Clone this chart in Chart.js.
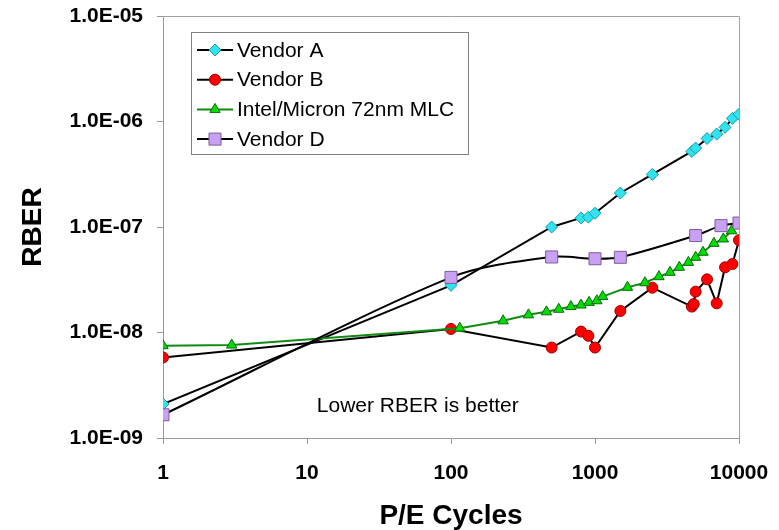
<!DOCTYPE html>
<html>
<head>
<meta charset="utf-8">
<title>RBER vs P/E Cycles</title>
<script src="https://cdn.jsdelivr.net/npm/chart.js@4.4.0/dist/chart.umd.min.js"></script>
<style>
    html, body { margin: 0; padding: 0; background: #ffffff; }
    #wrap { width: 779px; height: 530px; }
</style>
</head>
<body>
<div id="wrap"><canvas id="rberChart" width="779" height="530"></canvas></div>
<script>
// axis ticks
const xTicks = [1, 10, 100, 1000, 10000];
const yTicks = [1e-9, 1e-8, 1e-7, 1e-6, 1e-5];
const yTickLabels = ['1.0E-09', '1.0E-08', '1.0E-07', '1.0E-06', '1.0E-05'];

// Vendor A
const vendorAX = [1, 100, 500, 800, 900, 1000, 1500, 2500, 4700, 5000, 6000, 7000, 8000, 9000, 10000];
const vendorAY = [2.1e-9, 2.8e-8, 1.0e-7, 1.22e-7, 1.24e-7, 1.35e-7, 2.1e-7, 3.15e-7, 5.2e-7, 5.6e-7, 6.9e-7, 7.6e-7, 8.8e-7, 1.07e-6, 1.17e-6];

// Vendor B
const vendorBX = [1, 100, 500, 800, 900, 1000, 1500, 2500, 4700, 4850, 5000, 6000, 7000, 8000, 9000, 10000];
const vendorBY = [5.8e-9, 1.08e-8, 7.2e-9, 1.02e-8, 9.3e-9, 7.2e-9, 1.6e-8, 2.66e-8, 1.76e-8, 1.86e-8, 2.44e-8, 3.19e-8, 1.89e-8, 4.15e-8, 4.46e-8, 7.5e-8];

// Intel/Micron 72nm MLC
const intelX = [1, 3, 115, 230, 345, 460, 560, 680, 800, 910, 1030, 1130, 1680, 2220, 2780, 3320, 3850, 4450, 5000, 5620, 6700, 7780, 8890];
const intelY = [7.5e-9, 7.6e-9, 1.1e-8, 1.29e-8, 1.47e-8, 1.57e-8, 1.66e-8, 1.76e-8, 1.82e-8, 1.93e-8, 2.0e-8, 2.19e-8, 2.68e-8, 2.96e-8, 3.38e-8, 3.72e-8, 4.15e-8, 4.62e-8, 5.16e-8, 5.76e-8, 7.0e-8, 7.7e-8, 9.2e-8];

// Vendor D
const vendorDX = [1, 100, 500, 1000, 1500, 5000, 7500, 10000];
const vendorDY = [1.66e-9, 3.33e-8, 5.2e-8, 5.0e-8, 5.16e-8, 8.3e-8, 1.03e-7, 1.09e-7];

const seriesNames = ['Vendor A', 'Vendor B', 'Intel/Micron 72nm MLC', 'Vendor D'];
const noteText = 'Lower RBER is better';

const FONT = "'Liberation Sans', Arial, sans-serif";

function toPoints(xs, ys) {
    return xs.map((x, i) => ({ x: x, y: ys[i] }));
}

// legend, frame and note drawn on the canvas
const overlayPlugin = {
    id: 'overlay',
    afterDraw(chart) {
        const ctx = chart.ctx;
        const area = chart.chartArea;

        // plot frame (top and right)
        ctx.save();
        ctx.strokeStyle = '#a0a0a0';
        ctx.lineWidth = 1;
        ctx.beginPath();
        ctx.moveTo(area.left, Math.round(area.top) + 0.5);
        ctx.lineTo(Math.round(area.right) + 0.5, Math.round(area.top) + 0.5);
        ctx.lineTo(Math.round(area.right) + 0.5, area.bottom);
        ctx.stroke();

        // note
        const xs = chart.scales.x;
        const ys = chart.scales.y;
        ctx.fillStyle = '#000';
        ctx.font = '21px ' + FONT;
        ctx.textAlign = 'left';
        ctx.textBaseline = 'alphabetic';
        ctx.fillText(noteText, xs.getPixelForValue(11.7), ys.getPixelForValue(1.78e-9));

        // legend box
        const bx = 191.5, by = 32.5, bw = 277, bh = 122;
        ctx.fillStyle = '#ffffff';
        ctx.fillRect(bx, by, bw, bh);
        ctx.strokeStyle = '#808080';
        ctx.strokeRect(bx, by, bw, bh);

        chart.data.datasets.forEach((ds, i) => {
            const rowY = 50 + i * 29.7;
            ctx.strokeStyle = ds.borderColor;
            ctx.lineWidth = 2;
            ctx.beginPath();
            ctx.moveTo(197, rowY);
            ctx.lineTo(233, rowY);
            ctx.stroke();

            ctx.fillStyle = ds.pointBackgroundColor;
            ctx.strokeStyle = ds.pointBorderColor;
            ctx.lineWidth = 1;
            Chart.helpers.drawPoint(ctx, {
                pointStyle: ds.pointStyle,
                radius: ds.pointRadius,
                rotation: 0,
                borderWidth: 1
            }, 215, rowY);

            ctx.fillStyle = '#000';
            ctx.font = '21px ' + FONT;
            ctx.textBaseline = 'middle';
            ctx.fillText(ds.label, 237, rowY + 1);
        });
        ctx.restore();
    }
};

function makeDataset(label, xs, ys, opts) {
    return Object.assign({
        label: label,
        data: toPoints(xs, ys),
        borderColor: '#000000',
        borderWidth: 2,
        tension: 0,
        fill: false
    }, opts);
}

// drop the label overhang padding so the plot area is set by layout padding only
function noPad(scale) {
    scale.paddingTop = 0;
    scale.paddingBottom = 0;
    scale.paddingLeft = 0;
    scale.paddingRight = 0;
}

function initChart() {
    const ctx = document.getElementById('rberChart').getContext('2d');

    const datasets = [
        makeDataset(seriesNames[0], vendorAX, vendorAY, {
            pointStyle: 'rectRot', pointRadius: 6,
            pointBackgroundColor: '#2fe3f0', pointBorderColor: '#1c98a6', pointBorderWidth: 1,
            order: 4
        }),
        makeDataset(seriesNames[1], vendorBX, vendorBY, {
            pointStyle: 'circle', pointRadius: 5.5,
            pointBackgroundColor: '#ff0000', pointBorderColor: '#9a0000', pointBorderWidth: 1,
            order: 3
        }),
        makeDataset(seriesNames[2], intelX, intelY, {
            borderColor: '#108a10',
            pointStyle: 'triangle', pointRadius: 6,
            pointBackgroundColor: '#00dd00', pointBorderColor: '#0a6a0a', pointBorderWidth: 1,
            order: 2
        }),
        makeDataset(seriesNames[3], vendorDX, vendorDY, {
            tension: 0.3,
            pointStyle: 'rect', pointRadius: 8.5,
            pointBackgroundColor: '#c9a0f2', pointBorderColor: '#7a5f9a', pointBorderWidth: 1,
            order: 1
        })
    ];

    chart = new Chart(ctx, {
        type: 'line',
        data: { datasets: datasets },
        plugins: [overlayPlugin],
        options: {
            responsive: false,
            animation: false,
            layout: { padding: { top: 16, right: 40, left: 0, bottom: 0 } },
            plugins: {
                legend: { display: false },
                tooltip: { enabled: false }
            },
            scales: {
                x: {
                    type: 'logarithmic',
                    min: 1,
                    max: 10000,
                    afterBuildTicks: (scale) => {
                        scale.ticks = xTicks.map(v => ({ value: v, major: true }));
                    },
                    afterFit: (scale) => { scale.height = 92; noPad(scale); },
                    border: { display: true, color: '#999999', width: 1 },
                    grid: { drawOnChartArea: false, drawTicks: true, tickLength: 6, color: '#999999' },
                    ticks: {
                        color: '#000',
                        padding: 17,
                        maxRotation: 0,
                        autoSkip: false,
                        font: { family: FONT, size: 21, weight: 'bold' },
                        callback: (value) => String(value)
                    },
                    title: {
                        display: true,
                        text: 'P/E Cycles',
                        color: '#000',
                        padding: { top: 0, bottom: 0 },
                        font: { family: FONT, size: 28, weight: 'bold', lineHeight: 1 }
                    }
                },
                y: {
                    type: 'logarithmic',
                    min: 1e-9,
                    max: 1e-5,
                    afterBuildTicks: (scale) => {
                        scale.ticks = yTicks.map(v => ({ value: v, major: true }));
                    },
                    afterFit: (scale) => { scale.width = 163; noPad(scale); },
                    border: { display: true, color: '#999999', width: 1 },
                    grid: { drawOnChartArea: false, drawTicks: true, tickLength: 6, color: '#999999' },
                    ticks: {
                        color: '#000',
                        padding: 14,
                        autoSkip: false,
                        font: { family: FONT, size: 21, weight: 'bold' },
                        callback: (value, index) => yTickLabels[index]
                    },
                    title: {
                        display: true,
                        text: 'RBER',
                        color: '#000',
                        padding: { top: 16, bottom: 0 },
                        font: { family: FONT, size: 28, weight: 'bold', lineHeight: 1.2 }
                    }
                }
            }
        }
    });
}

let chart;
initChart();
</script>
</body>
</html>
